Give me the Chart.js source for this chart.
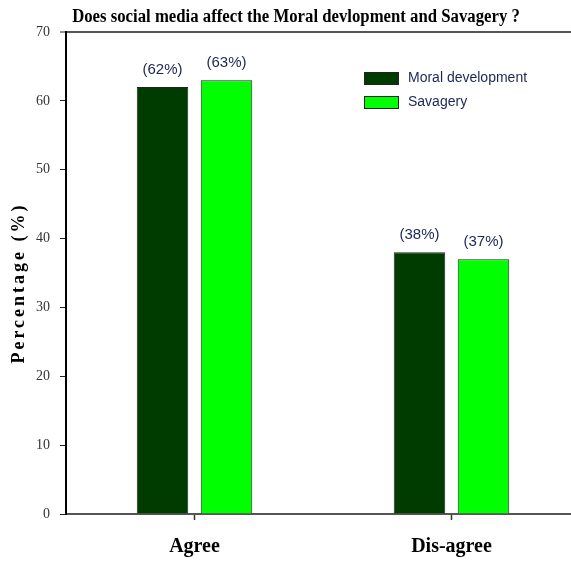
<!DOCTYPE html>
<html>
<head>
<meta charset="utf-8">
<script src="https://cdn.jsdelivr.net/npm/chart.js@4/dist/chart.umd.min.js"></script>
<style>
html,body{margin:0;padding:0;background:#fff;overflow:hidden;}
#wrap{width:580px;height:561px;}
</style>
</head>
<body>
<div id="wrap"><canvas id="c" width="580" height="561"></canvas></div>
<script>
const categories = ["Agree", "Dis-agree"];
const seriesNames = ["Moral development", "Savagery"];
const moralValues = [62, 38];
const savageryValues = [63, 37];
const yTicks = [0, 10, 20, 30, 40, 50, 60, 70];
const chartTitle = "Does social media affect the Moral devlopment and Savagery ?";
const yTitle = "Percentage (%)";

const SERIF = "'Liberation Serif','Times New Roman',serif";
const SANS = "'Liberation Sans',Arial,sans-serif";

const valueLabels = {
  id: 'valueLabels',
  afterDatasetsDraw(chart) {
    const ctx = chart.ctx;
    ctx.save();
    ctx.font = "15px " + SANS;
    ctx.fillStyle = "#1c2656";
    ctx.textAlign = "center";
    ctx.textBaseline = "middle";
    chart.data.datasets.forEach((ds, i) => {
      const meta = chart.getDatasetMeta(i);
      meta.data.forEach((bar, j) => {
        ctx.fillText("(" + ds.data[j] + "%)", bar.x, bar.y - 17);
      });
    });
    ctx.restore();
  }
};

const customLegend = {
  id: 'customLegend',
  afterDraw(chart) {
    const ctx = chart.ctx;
    ctx.save();
    ctx.font = "14px " + SANS;
    ctx.textBaseline = "middle";
    ctx.textAlign = "left";
    chart.data.datasets.forEach((ds, i) => {
      const y = 72 + i * 24;
      ctx.fillStyle = ds.backgroundColor;
      ctx.fillRect(364, y, 35, 13);
      ctx.strokeStyle = "#222";
      ctx.lineWidth = 1;
      ctx.strokeRect(364.5, y + 0.5, 34, 12);
      ctx.fillStyle = "#1c2656";
      ctx.fillText(ds.label, 408, y + 6);
    });
    ctx.restore();
  }
};

const titleAndAxisTitle = {
  id: 'titleAndAxisTitle',
  afterDraw(chart) {
    const ctx = chart.ctx;
    // chart title (slightly condensed serif, as in the reference)
    ctx.save();
    ctx.font = "bold 18px " + SERIF;
    ctx.fillStyle = "#000";
    ctx.textAlign = "center";
    ctx.textBaseline = "alphabetic";
    ctx.translate(296, 22);
    ctx.scale(0.93, 1);
    ctx.fillText(chartTitle, 0, 0);
    ctx.restore();
    // y axis title
    ctx.save();
    ctx.font = "bold 18px " + SERIF;
    ctx.fillStyle = "#000";
    ctx.textAlign = "center";
    ctx.textBaseline = "middle";
    if ('letterSpacing' in ctx) ctx.letterSpacing = "3px";
    ctx.translate(19, 283);
    ctx.rotate(-Math.PI / 2);
    ctx.fillText(yTitle, 0, 0);
    ctx.restore();
  }
};

new Chart(document.getElementById('c'), {
  type: 'bar',
  data: {
    labels: categories,
    datasets: [
      { label: seriesNames[0], data: moralValues, backgroundColor: "#003c00", borderColor: "#222", borderWidth: 1 },
      { label: seriesNames[1], data: savageryValues, backgroundColor: "#00ff00", borderColor: "#222", borderWidth: 1 }
    ]
  },
  options: {
    responsive: false,
    animation: false,
    categoryPercentage: 0.498,
    barPercentage: 0.805,
    layout: { padding: { left: 0, right: 0, top: 32, bottom: 0 } },
    plugins: {
      legend: { display: false },
      tooltip: { enabled: false },
      title: { display: false }
    },
    scales: {
      x: {
        grid: { display: true, offset: false, drawOnChartArea: false, drawTicks: true, tickLength: 6, tickColor: "#333", tickWidth: 1.5 },
        border: { display: true, color: "#555", width: 2 },
        ticks: { color: "#000", font: { family: SERIF, size: 20, weight: 'bold' }, padding: 15 },
        afterFit(scale) { scale.height = 47; }
      },
      y: {
        min: 0, max: 70,
        afterBuildTicks(scale) { scale.ticks = yTicks.map(v => ({ value: v })); },
        grid: {
          display: true,
          drawOnChartArea: true,
          color: (c) => (c.tick && c.tick.value === 70 ? "#555" : "rgba(0,0,0,0)"),
          lineWidth: (c) => (c.tick && c.tick.value === 70 ? 2 : 1),
          drawTicks: true, tickLength: 6, tickColor: "#222", tickWidth: 1
        },
        border: { display: true, color: "#000", width: 2 },
        ticks: { color: "#333", font: { family: SERIF, size: 14 }, padding: 10 },
        afterFit(scale) { scale.width = 66; }
      }
    }
  },
  plugins: [valueLabels, customLegend, titleAndAxisTitle]
});
</script>
</body>
</html>
